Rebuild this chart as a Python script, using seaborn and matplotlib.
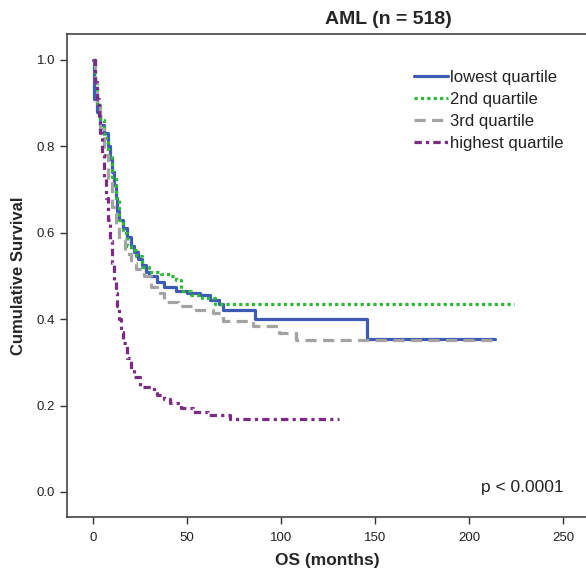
import pandas as pd
import matplotlib.pyplot as plt
import seaborn as sns

sns.set_style("ticks")
plt.rcParams['font.family'] = ['Liberation Sans', 'DejaVu Sans']

# Kaplan-Meier step values (months, cumulative survival)
t_lowest = [0, 0.5, 2, 4, 6, 8, 9, 10, 11, 12, 13, 14, 16, 18, 20, 22, 24, 26, 28, 30,
            34, 38, 44, 50, 57, 62, 67, 69, 86, 146, 214]
s_lowest = [1.0, 0.91, 0.88, 0.85, 0.83, 0.80, 0.77, 0.74, 0.71, 0.68, 0.65, 0.63, 0.61,
            0.59, 0.57, 0.555, 0.54, 0.525, 0.51, 0.50, 0.485, 0.475, 0.465, 0.46, 0.455,
            0.445, 0.435, 0.42, 0.40, 0.354, 0.354]

t_2nd = [0, 1, 2, 4, 6, 8, 10, 12, 14, 16, 18, 20, 23, 26, 30, 36, 41, 44, 47, 52, 58, 65, 224]
s_2nd = [1.0, 0.95, 0.90, 0.86, 0.82, 0.78, 0.73, 0.68, 0.63, 0.60, 0.57, 0.56, 0.545,
         0.52, 0.51, 0.505, 0.50, 0.49, 0.465, 0.455, 0.45, 0.436, 0.436]

t_3rd = [0, 1, 2, 4, 6, 8, 10, 12, 14, 17, 20, 23, 27, 31, 34, 38, 45, 55, 64, 69, 85,
         99, 108, 214]
s_3rd = [1.0, 0.95, 0.90, 0.84, 0.78, 0.72, 0.66, 0.62, 0.585, 0.55, 0.53, 0.515, 0.50,
         0.475, 0.46, 0.44, 0.43, 0.42, 0.415, 0.395, 0.383, 0.368, 0.352, 0.352]

t_highest = [0, 1, 2, 3, 4, 5, 6, 7, 8, 9, 10, 11, 12, 13, 14, 15, 16, 18, 20, 22, 25,
             30, 34, 38, 41, 47, 53, 61, 73, 131]
s_highest = [1.0, 0.95, 0.91, 0.87, 0.83, 0.78, 0.73, 0.68, 0.63, 0.58, 0.53, 0.49, 0.46,
             0.43, 0.40, 0.37, 0.345, 0.31, 0.285, 0.265, 0.243, 0.238, 0.225, 0.215,
             0.205, 0.195, 0.185, 0.178, 0.168, 0.168]

groups = ["lowest quartile", "2nd quartile", "3rd quartile", "highest quartile"]
times = [t_lowest, t_2nd, t_3rd, t_highest]
survs = [s_lowest, s_2nd, s_3rd, s_highest]
colors = ["#3E5BB3", "#2DB83A", "#A3A3A3", "#7A2C82"]
styles = ["-", (0, (1, 1)), (0, (3.5, 2)), (0, (2.3, 1.3, 1, 1.3))]

fig = plt.figure(figsize=(5.86, 5.73), dpi=100)
ax = fig.add_axes([67 / 586, 56 / 573, 520 / 586, 483 / 573])

for g, t, s, c, ls in zip(groups, times, survs, colors, styles):
    df = pd.DataFrame({"OS": t, "surv": s})
    sns.lineplot(data=df, x="OS", y="surv", ax=ax, color=c, linestyle=ls,
                 linewidth=2.3, drawstyle="steps-post", estimator=None, sort=False,
                 label=g)

ax.set_xlim(-13.8, 262.8)
ax.set_ylim(-0.058, 1.06)
ax.set_xticks([0, 50, 100, 150, 200, 250])
ax.set_yticks([0.0, 0.2, 0.4, 0.6, 0.8, 1.0])
ax.set_yticklabels(["0.0", "0.2", "0.4", "0.6", "0.8", "1.0"])
ax.tick_params(axis="both", labelsize=9.5, length=5, width=1, colors="#333333",
               labelcolor="#222222")
ax.tick_params(axis="x", pad=6)
for sp in ["left", "bottom", "top"]:
    ax.spines[sp].set_color("#444444")
    ax.spines[sp].set_linewidth(1.2)
ax.spines["right"].set_visible(False)

ax.set_xlabel("OS (months)", fontsize=12.5, fontweight="bold", labelpad=6)
ax.set_ylabel("Cumulative Survival", fontsize=12, fontweight="bold", labelpad=8)
ax.set_title("AML (n = 518)", fontsize=14, fontweight="bold", x=(388 - 67) / 520, pad=7)

ax.text(0.955, 0.062, "p < 0.0001", transform=ax.transAxes, ha="right", va="center",
        fontsize=12.5, color="#222222")

ax.legend(loc="upper left", bbox_to_anchor=(0.655, 0.94), frameon=False, fontsize=12,
          handlelength=2.0, handletextpad=0.15, labelspacing=0.42, borderaxespad=0,
          labelcolor="#222222")

fig.savefig("out.png", dpi=100)
